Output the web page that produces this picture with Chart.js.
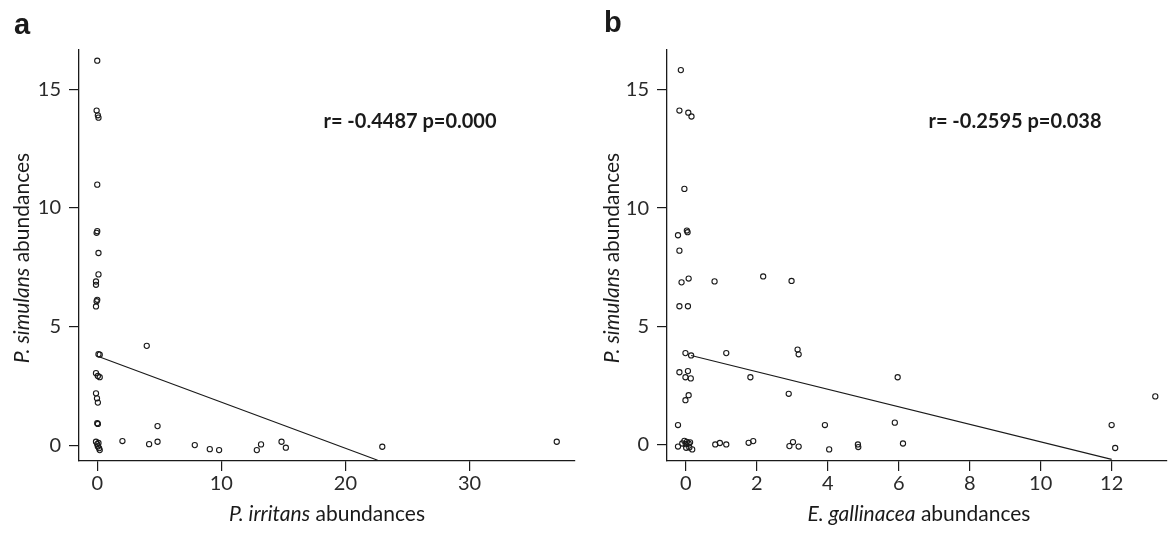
<!DOCTYPE html>
<html>
<head>
<meta charset="utf-8">
<script src="https://cdn.jsdelivr.net/npm/chart.js@4.4.1/dist/chart.umd.min.js"></script>
<style>
  html, body { margin: 0; padding: 0; background: #fff; }
  body { width: 1176px; height: 539px; position: relative; overflow: hidden; font-family: Lato, "Open Sans", sans-serif; color: #1a1a1a; }
  .panel { position: absolute; top: 0; width: 588px; height: 539px; }
  .lbl { position: absolute; white-space: nowrap; transform: translate(-50%, -50%); }
  .title { font-size: 21px; }
  .ytitle { transform: translate(-50%, -50%) rotate(-90deg); }
  .stat { font-weight: bold; font-size: 20px; }
  .letter { position: absolute; font-weight: bold; font-size: 29px; font-family: Arial, "Liberation Sans", sans-serif; }
</style>
</head>
<body>
<div class="panel" style="left:0"><canvas id="chartA" width="588" height="539"></canvas></div>
<div class="panel" style="left:588px"><canvas id="chartB" width="588" height="539"></canvas></div>

<div class="letter" style="left:14px; top:8px">a</div>
<div class="letter" style="left:604px; top:6px">b</div>

<div class="lbl title ytitle" style="left:20px; top:258px"><i>P. simulans</i> abundances</div>
<div class="lbl title ytitle" style="left:610px; top:258px"><i>P. simulans</i> abundances</div>
<div class="lbl title" style="left:327px; top:512px"><i>P. irritans</i> abundances</div>
<div class="lbl title" style="left:919px; top:512px"><i>E. gallinacea</i> abundances</div>
<div class="lbl stat" style="left:410px; top:120px">r= -0.4487 p=0.000</div>
<div class="lbl stat" style="left:1015px; top:120px">r= -0.2595 p=0.038</div>

<script>
// panel a: P. irritans vs P. simulans
const aIrritans = [0, -0.05, 0.05, 0.1, 0, 0, -0.05, 0.1, 0.1, -0.1, -0.1, 0, -0.05, -0.1,
    0.1, 0.2, -0.1, 0.05, 0.2, -0.1, -0.02, 0.05, 0, 0.05, -0.1, 0.1, 0.05, 0.2, 0, 0.15,
    2.03, 4.18, 4.86, 4.86, 3.99, 7.86, 9.07, 9.82, 12.86, 13.2, 14.85, 15.2, 22.97, 37.03];
const aSimulans = [16.2, 14.1, 13.9, 13.8, 10.98, 9.02, 8.95, 8.1, 7.2, 6.9, 6.76, 6.13, 6.07, 5.85,
    3.84, 3.82, 3.04, 2.92, 2.87, 2.19, 1.98, 1.8, 0.93, 0.9, 0.15, 0.1, -0.05, -0.2, 0.05, -0.12,
    0.18, 0.05, 0.15, 0.81, 4.19, 0.01, -0.16, -0.2, -0.2, 0.04, 0.15, -0.1, -0.06, 0.15];
const aFitX = [0.2, 22.6];
const aFitY = [3.72, -0.63];
const aXTicks = [0, 10, 20, 30];

// panel b: E. gallinacea vs P. simulans
const bGallinacea = [-0.14, -0.18, 0.07, 0.16, -0.04, -0.22, 0.03, 0.05, -0.18,
    -0.12, 0.08, 0.81, 2.18, -0.18, 0.06, -0.01, 0.15, 1.14, -0.18, 0.06, -0.01, 0.14, 1.82,
    0.08, -0.01, 2.9, -0.22,
    -0.22, -0.04, 0, 0.03, 0.01, 0.1, 0.08, 0.18, -0.1, 0.12,
    0.83, 0.96, 1.14, 1.77, 1.9,
    2.98, 3.15, 3.18, 5.97, 3.92, 5.89, 12.0, 13.23, 2.92, 3.02, 3.18, 4.04, 4.85, 4.86, 6.12, 12.1];
const bSimulans = [15.83, 14.12, 14.03, 13.87, 10.81, 8.85, 9.05, 8.98, 8.2,
    6.86, 7.02, 6.9, 7.11, 5.85, 5.85, 3.87, 3.77, 3.87, 3.06, 3.11, 2.85, 2.8, 2.85,
    2.09, 1.88, 2.15, 0.83,
    -0.08, 0.16, 0.02, 0.12, -0.13, -0.12, 0.05, -0.2, 0.05, 0.1,
    0.01, 0.07, 0.01, 0.08, 0.15,
    6.92, 4.02, 3.82, 2.85, 0.83, 0.93, 0.83, 2.04, -0.06, 0.11, -0.08, -0.2, 0.01, -0.1, 0.05, -0.14];
const bFitX = [0.15, 12.0];
const bFitY = [3.77, -0.62];
const bXTicks = [0, 2, 4, 6, 8, 10, 12];

const yTicks = [0, 5, 10, 15];

const ink = '#1a1a1a';
const tickFont = { family: 'Lato', size: 20 };

function pts(xs, ys) {
    return xs.map((x, i) => ({ x: x, y: ys[i] }));
}

function axis(min, max, ticks, fitSize, horizontal) {
    return {
        type: 'linear',
        min: min,
        max: max,
        afterBuildTicks: (scale) => {
            scale.ticks = ticks.map((v) => ({ value: v }));
        },
        afterFit: (scale) => {
            if (horizontal) {
                scale.height = fitSize;
            } else {
                scale.width = fitSize;
            }
        },
        grid: {
            drawOnChartArea: false,
            drawTicks: true,
            tickLength: 10,
            color: ink,
            lineWidth: 1.2,
        },
        border: { display: true, color: ink, width: 1.3 },
        ticks: {
            color: '#2a2a2a',
            font: tickFont,
            padding: horizontal ? 1 : 8,
        },
    };
}

function makeChart(id, xs, ys, fitX, fitY, xMin, xMax, xTicks, yMin, yMax, padRight) {
    return new Chart(document.getElementById(id), {
        type: 'scatter',
        data: {
            datasets: [
                {
                    data: pts(xs, ys),
                    pointStyle: 'circle',
                    pointRadius: 2.6,
                    borderWidth: 1.1,
                    borderColor: ink,
                    backgroundColor: 'rgba(0,0,0,0)',
                },
                {
                    type: 'line',
                    data: pts(fitX, fitY),
                    borderColor: ink,
                    borderWidth: 1.2,
                    pointRadius: 0,
                    fill: false,
                },
            ],
        },
        options: {
            responsive: false,
            animation: false,
            layout: { padding: { left: 0, top: 50, right: padRight, bottom: 0 } },
            plugins: {
                legend: { display: false },
                tooltip: { enabled: false },
            },
            scales: {
                x: axis(xMin, xMax, xTicks, 78, true),
                y: axis(yMin, yMax, yTicks, 79, false),
            },
        },
    });
}

makeChart('chartA', aIrritans, aSimulans, aFitX, aFitY, -1.47, 38.5, aXTicks, -0.66, 16.65, 13);
makeChart('chartB', bGallinacea, bSimulans, bFitX, bFitY, -0.53, 13.56, bXTicks, -0.69, 16.68, 9);
</script>
</body>
</html>
